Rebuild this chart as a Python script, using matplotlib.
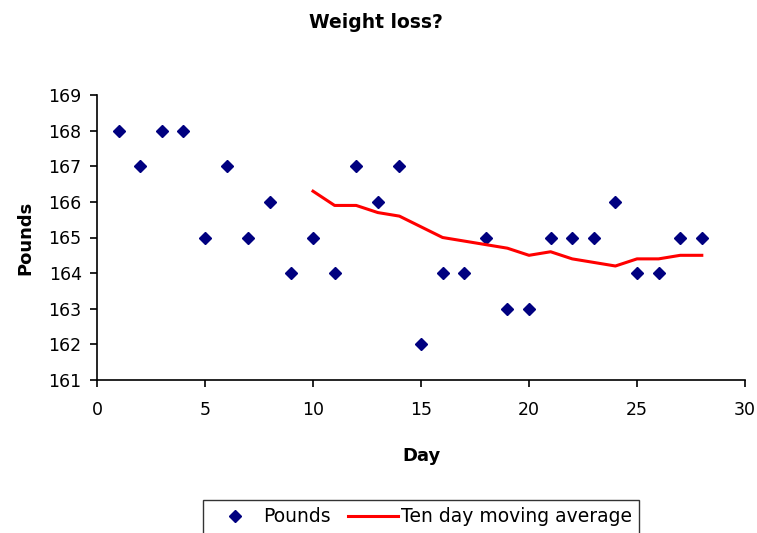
import matplotlib
matplotlib.use("Agg")
import matplotlib.pyplot as plt

days = list(range(1, 29))
pounds = [168, 167, 168, 168, 165, 167, 165, 166, 164, 165,
          164, 167, 166, 167, 162, 164, 164, 165, 163, 163,
          165, 165, 165, 166, 164, 164, 165, 165]
avg_days = list(range(10, 29))
moving_avg = [166.3, 165.9, 165.9, 165.7, 165.6, 165.3, 165.0, 164.9, 164.8, 164.7,
              164.5, 164.6, 164.4, 164.3, 164.2, 164.4, 164.4, 164.5, 164.5]
x_ticks = [0, 5, 10, 15, 20, 25, 30]
y_ticks = [161, 162, 163, 164, 165, 166, 167, 168, 169]

plt.rcParams['font.family'] = ['DejaVu Sans']

W, H = 757, 533
fig = plt.figure(figsize=(W / 100, H / 100), dpi=100)
ax = fig.add_axes([97 / W, 1 - 380 / H, (745 - 97) / W, (380 - 95) / H])

ax.plot(days, pounds, linestyle='none', marker='D', markersize=6.5,
        color='#000080', label='Pounds')
ax.plot(avg_days, moving_avg, color='#ff0000', linewidth=2.2,
        label='Ten day moving average')

ax.set_xlim(0, 30)
ax.set_ylim(161, 169)
ax.set_xticks(x_ticks)
ax.set_yticks(y_ticks)
for s in ['top', 'right']:
    ax.spines[s].set_visible(False)
for s in ['left', 'bottom']:
    ax.spines[s].set_linewidth(1.2)
ax.tick_params(direction='out', length=5, width=1.2, labelsize=12.5, pad=6)
ax.tick_params(axis='x', pad=10)
ax.set_xlabel('Day', fontsize=13, fontweight='bold', labelpad=20)
ax.set_ylabel('Pounds', fontsize=13, fontweight='bold', labelpad=10)

fig.text(0.497, 1 - 22 / H, 'Weight loss?', ha='center', va='center',
         fontsize=13.5, fontweight='bold')

leg = fig.legend(loc='upper center', bbox_to_anchor=(421 / W, 1 - 500 / H),
                 ncol=2, frameon=True, fancybox=False, fontsize=13.5,
                 handlelength=2.67, columnspacing=0.9, handletextpad=0.15,
                 borderpad=0.4, borderaxespad=0)
leg.get_frame().set_edgecolor('black')
leg.get_frame().set_linewidth(1.0)

fig.savefig('out.png', dpi=100)
